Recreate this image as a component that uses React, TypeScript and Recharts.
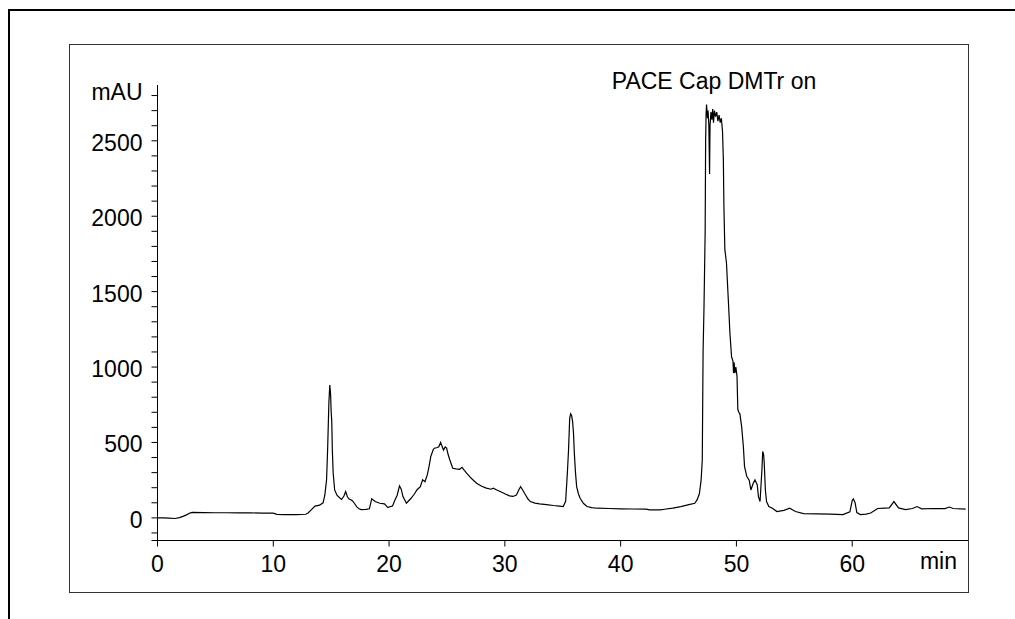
import React from 'react';
import { LineChart, Line, XAxis, YAxis } from 'recharts';

const chartTitle = 'PACE Cap DMTr on';
const xUnit = 'min';
const yUnit = 'mAU';

const xTicks = [0, 10, 20, 30, 40, 50, 60];
const yTicks = [
  -150, -100, 0, 100, 200, 300, 400, 500, 600, 700, 800, 900, 1000, 1100, 1200, 1300, 1400,
  1500, 1600, 1700, 1800, 1900, 2000, 2100, 2200, 2300, 2400, 2500, 2600, 2700, 2800,
];
const yLabelled = [0, 500, 1000, 1500, 2000, 2500];

// retention time (min) segments
const tBaseline = [0, 0.5, 1.0, 1.5, 1.9, 2.2, 2.5, 2.8, 3.0, 4.0, 5.0, 6.0, 7.0, 8.0, 9.0, 10.0, 10.3, 11.0, 12.0, 12.8];
const tPeak15 = [13.0, 13.3, 13.6, 14.0, 14.3, 14.45, 14.6, 14.7, 14.8, 14.88, 14.95, 15.0, 15.05, 15.1, 15.17, 15.3, 15.5, 15.7, 15.9];
const tSmall = [16.1, 16.25, 16.4, 16.55, 16.7, 16.85, 17.0, 17.2, 17.4, 17.6, 18.0, 18.3, 18.5, 18.8, 19.2, 19.6, 19.9, 20.1, 20.3, 20.5, 20.7];
const tBroadUp = [20.9, 21.05, 21.2, 21.5, 21.9, 22.2, 22.4, 22.7, 22.9, 23.1, 23.3, 23.45, 23.6, 23.8, 23.9, 24.1, 24.3, 24.45, 24.55, 24.7, 24.85, 24.97];
const tBroadDown = [25.1, 25.25, 25.5, 25.8, 26.1, 26.3, 26.5, 26.7, 27.0, 27.3, 27.56, 28.0, 28.4, 28.8, 29.0, 29.3, 29.6, 30.0, 30.4, 30.7];
const tPeak36 = [31.0, 31.2, 31.36, 31.5, 31.7, 32.0, 32.2, 32.6, 33.0, 33.6, 34.2, 34.7, 35.04, 35.25, 35.4, 35.5, 35.6, 35.68, 35.76, 35.85, 35.93, 36.0, 36.1, 36.2, 36.35, 36.5, 36.8, 37.1];
const tValley = [37.5, 38.0, 39.0, 40.0, 41.0, 42.2, 42.5, 43.4, 43.8, 44.5, 45.2, 45.8, 46.4, 46.6, 46.8, 46.95, 47.05];
const tMainTop = [47.12, 47.2, 47.3, 47.34, 47.38, 47.42, 47.5, 47.55, 47.62, 47.68, 47.72, 47.8, 47.88, 47.95, 48.02, 48.1, 48.2, 48.3, 48.4, 48.5, 48.6, 48.7, 48.8, 48.87, 48.92, 49.0];
const tMainTail = [49.14, 49.3, 49.44, 49.58, 49.7, 49.75, 49.8, 49.87, 49.95, 50.05, 50.12, 50.2, 50.3, 50.45, 50.6, 50.7, 50.9, 51.1, 51.25, 51.45, 51.6, 51.8, 51.9, 52.04, 52.2, 52.27, 52.35, 52.4, 52.5, 52.6, 52.8];
const tLate = [53.1, 53.5, 54.1, 54.6, 54.8, 55.1, 55.8, 57.0, 58.1, 59.2, 59.8, 60.0, 60.1, 60.25, 60.4, 60.7, 61.2, 61.6, 62.2, 62.8, 63.2, 63.6, 64.0, 64.6, 65.2, 65.6, 66.0, 67.0, 68.0, 68.4, 68.7, 69.8];

// absorbance (mAU) segments
const vBaseline = [0, 0, -2, -4, 2, 10, 20, 32, 36, 35, 34, 34, 33, 33, 32, 31, 23, 22, 21, 24];
const vPeak15 = [32, 55, 78, 84, 100, 150, 250, 470, 760, 880, 820, 700, 640, 450, 300, 185, 150, 135, 122];
const vSmall = [145, 175, 140, 125, 120, 112, 97, 75, 60, 55, 57, 60, 126, 108, 97, 93, 68, 75, 79, 117, 150];
const vBroadUp = [212, 190, 141, 97, 130, 160, 185, 207, 252, 240, 285, 340, 406, 450, 462, 465, 472, 501, 480, 450, 470, 463];
const vBroadDown = [420, 384, 329, 325, 322, 335, 315, 296, 270, 248, 230, 210, 197, 190, 197, 185, 175, 160, 146, 142];
const vPeak36 = [152, 185, 207, 190, 163, 125, 108, 98, 93, 88, 82, 78, 75, 110, 300, 450, 660, 690, 680, 640, 560, 430, 300, 207, 160, 130, 95, 75];
const vValley = [68, 64, 62, 60, 59, 58, 53, 53, 57, 65, 75, 86, 97, 119, 160, 250, 384];
const vMainTop = [1100, 1400, 1900, 2500, 2680, 2740, 2650, 2700, 2600, 2280, 2600, 2690, 2640, 2710, 2620, 2700, 2660, 2690, 2630, 2670, 2620, 2650, 2560, 2380, 2060, 1780];
const vMainTail = [1690, 1444, 1223, 1068, 1040, 960, 1030, 960, 1000, 940, 720, 700, 690, 605, 472, 340, 274, 250, 185, 230, 252, 218, 141, 108, 318, 440, 420, 364, 185, 108, 75];
const vLate = [64, 42, 50, 64, 55, 42, 28, 26, 25, 22, 40, 115, 125, 100, 35, 22, 25, 32, 62, 64, 66, 108, 66, 55, 62, 75, 60, 62, 62, 72, 62, 58];

const retentionTimes = [
  ...tBaseline, ...tPeak15, ...tSmall, ...tBroadUp, ...tBroadDown,
  ...tPeak36, ...tValley, ...tMainTop, ...tMainTail, ...tLate,
];
const absorbance = [
  ...vBaseline, ...vPeak15, ...vSmall, ...vBroadUp, ...vBroadDown,
  ...vPeak36, ...vValley, ...vMainTop, ...vMainTail, ...vLate,
];

const data = retentionTimes.map((t, i) => ({ t, v: absorbance[i] }));

const FONT = '"Liberation Sans", Arial, Helvetica, sans-serif';

const YTick = (props: any) => {
  const { x, y, payload } = props;
  const val = payload.value;
  let label = '';
  let dy = 10;
  if (yLabelled.includes(val)) label = String(val);
  else if (val === 2800) {
    label = yUnit;
    dy = 4;
  }
  if (!label) return <g />;
  return (
    <text x={x} y={y} dy={dy} textAnchor="end" fontSize={23} fill="#000" fontFamily={FONT}>
      {label}
    </text>
  );
};

export default function App() {
  return (
    <div style={{ position: 'absolute', left: 0, top: 0, width: 1015, height: 619, background: '#fff', overflow: 'hidden', fontFamily: FONT }}>
      <div
        style={{
          position: 'absolute', left: 8, top: 9, width: 1010, height: 620,
          borderLeft: '2px solid #000', borderTop: '2px solid #000', boxSizing: 'border-box',
        }}
      />
      <div
        style={{
          position: 'absolute', left: 69, top: 44, width: 900, height: 549,
          border: '1px solid #333', boxSizing: 'border-box',
        }}
      />
      <div style={{ position: 'absolute', left: 0, top: 0 }}>
        <LineChart
          width={1015}
          height={619}
          data={data}
          margin={{ top: 85, right: 47, bottom: 48.5, left: 77.5 }}
        >
          <XAxis
            dataKey="t"
            type="number"
            domain={[0, 70]}
            ticks={xTicks}
            interval={0}
            height={30}
            tickSize={6}
            tickMargin={9}
            axisLine={{ stroke: '#000', strokeWidth: 1 }}
            tickLine={{ stroke: '#000' }}
            tick={{ fontSize: 23, fill: '#000', fontFamily: FONT }}
          />
          <YAxis
            type="number"
            domain={[-150, 2870]}
            ticks={yTicks}
            interval={0}
            width={80}
            tickSize={6}
            tickMargin={9}
            axisLine={{ stroke: '#000', strokeWidth: 1 }}
            tickLine={{ stroke: '#000' }}
            tick={<YTick />}
          />
          <Line
            dataKey="v"
            type="linear"
            stroke="#000"
            strokeWidth={1.2}
            dot={false}
            isAnimationActive={false}
          />
        </LineChart>
      </div>
      <svg width={1015} height={619} style={{ position: 'absolute', left: 0, top: 0, pointerEvents: 'none' }}>
        <text x={714} y={89} textAnchor="middle" fontSize={23} fill="#000" fontFamily={FONT}>
          {chartTitle}
        </text>
        <text x={957} y={569} textAnchor="end" fontSize={23} fill="#000" fontFamily={FONT}>
          {xUnit}
        </text>
      </svg>
    </div>
  );
}
